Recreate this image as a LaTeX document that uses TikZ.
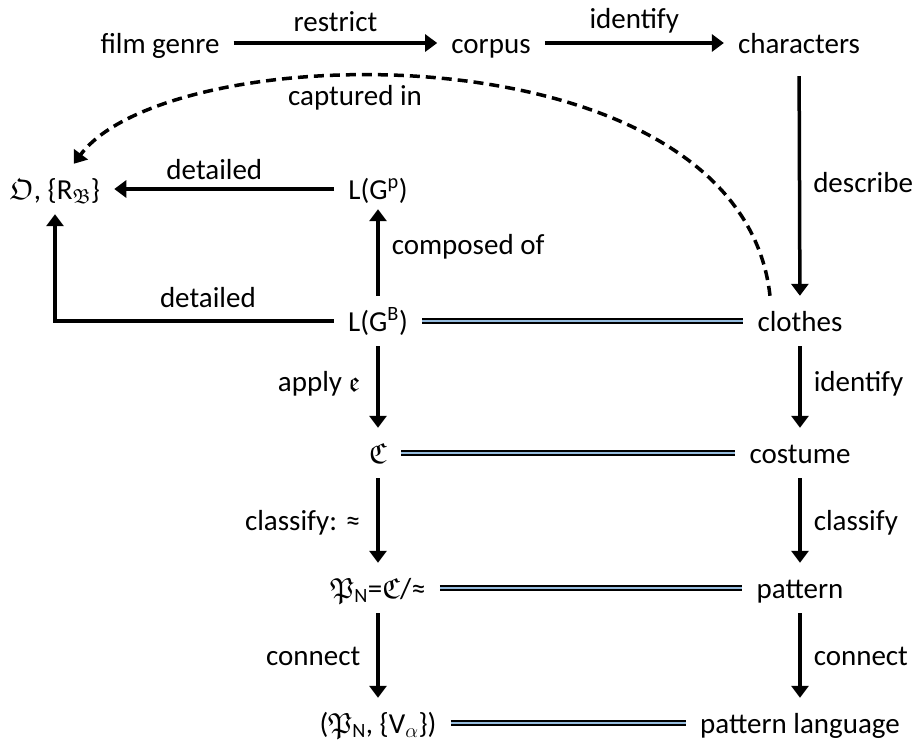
\RequirePackage{fix-cm}
\documentclass[tikz,border=0pt]{standalone}
\usepackage{fontspec}
\setmainfont{Carlito}
% scalable Euler Fraktur at any size
\DeclareFontFamily{U}{euf}{}
\DeclareFontShape{U}{euf}{m}{n}{<->eufm10}{}
\DeclareFontShape{U}{euf}{b}{n}{<->eufb10}{}
\usepackage{amssymb}
\usetikzlibrary{arrows.meta,calc}
\definecolor{dblblue}{RGB}{150,188,222}
\begin{document}
\begin{tikzpicture}[x=1pt,y=-1pt,
  every node/.style={font=\fontsize{29pt}{35pt}\selectfont},
  item/.style={inner xsep=14pt, inner ysep=12pt, text height=23pt, text depth=3pt},
  lab/.style={inner sep=0pt, text height=23pt, text depth=3pt},
  arr/.style={line width=3.5pt, -{Triangle[length=12pt,width=17pt]}},
  dasharr/.style={arr, dash pattern=on 10pt off 6pt},
  dbl/.style={line width=2.3pt, double=dblblue, double distance=2pt}]
\useasboundingbox (0,0) rectangle (914,747);

% objects
\node[item] (genre)   at (160,43)  {film genre};
\node[item] (corpus)  at (491,43)  {corpus};
\node[item] (chars)   at (799,43)  {characters};
\node[item] (O)       at (55,189)  {$\mathfrak{O}$, \{R$_{\mathfrak{B}}$\}};
\node[item] (LGp)     at (378,189) {L(G\textsuperscript{p})};
\node[item] (LGB)     at (378,321) {L(G\textsuperscript{B})};
\node[item] (clothes) at (800,321) {clothes};
\node[item] (C)       at (378,453) {$\mathfrak{C}$};
\node[item] (costume) at (800,453) {costume};
\node[item] (PN)      at (378,588) {$\mathfrak{P}$\textsubscript{N}=$\mathfrak{C}$/≈};
\node[item] (pattern) at (800,588) {pattern};
\node[item] (PNV)     at (378,723) {($\mathfrak{P}$\textsubscript{N}, \{V$_\alpha$\})};
\node[item] (plang)   at (800,723) {pattern language};

% top row
\draw[arr] (genre) -- node[lab, midway, anchor=base, yshift=12pt] {restrict} (corpus);
\draw[arr] (corpus) -- node[lab, midway, anchor=base, yshift=15pt] {identify} (chars);
\draw[arr, shorten <=8pt] (chars) -- node[lab, midway, right=12pt] {describe} (clothes);

% model side
\draw[arr] (LGp) -- node[lab, pos=0.545, anchor=base, yshift=10pt] {detailed} (O);
\draw[arr] (LGB.west) -| node[lab, pos=0.226, anchor=base, yshift=14pt] {detailed} (O.south);
\draw[arr, shorten >=-5pt] (LGB) -- node[lab, pos=0.63, right=12pt] {composed of} (LGp);
\draw[dasharr] ([xshift=-30pt]clothes.north) .. controls (740,25) and (170,35) .. (O);
\node[lab, anchor=base] (cap) at (355,105) {captured in};

% correspondences
\draw[dbl] (LGB) -- (clothes);
\draw[dbl] (C) -- (costume);
\draw[dbl] (PN) -- (pattern);
\draw[dbl] (PNV) -- (plang);

% lower steps
\draw[arr] (LGB) -- node[lab, pos=0.43, left=16pt] {apply $\mathfrak{e}$} (C);
\draw[arr] (clothes) -- node[lab, pos=0.43, right=12pt] {identify} (costume);
\draw[arr] (C) -- node[lab, midway, left=16pt] {classify: ≈} (PN);
\draw[arr] (costume) -- node[lab, midway, right=12pt] {classify} (pattern);
\draw[arr] (PN) -- node[lab, midway, left=16pt] {connect} (PNV);
\draw[arr] (pattern) -- node[lab, midway, right=12pt] {connect} (plang);
\end{tikzpicture}
\end{document}
